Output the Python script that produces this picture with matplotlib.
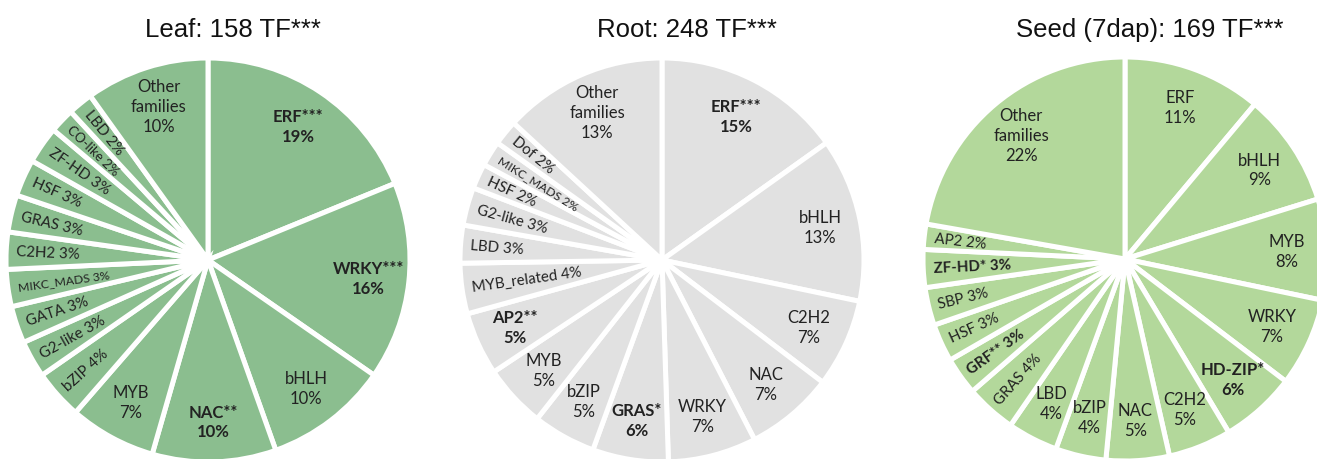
import numpy as np
import matplotlib
matplotlib.use('Agg')
import matplotlib.pyplot as plt

# Datos (porcentajes)
leaf_title = 'Leaf: 158 TF***'
leaf_names = ['ERF***', 'WRKY***', 'bHLH', 'NAC**', 'MYB', 'bZIP', 'G2-like', 'GATA',
              'MIKC_MADS', 'C2H2', 'GRAS', 'HSF', 'ZF-HD', 'CO-like', 'LBD', 'Other\nfamilies']
leaf_pct = [19, 16, 10, 10, 7, 4, 3, 3, 3, 3, 3, 3, 3, 2, 2, 10]

root_title = 'Root: 248 TF***'
root_names = ['ERF***', 'bHLH', 'C2H2', 'NAC', 'WRKY', 'GRAS*', 'bZIP', 'MYB', 'AP2**',
              'MYB_related', 'LBD', 'G2-like', 'HSF', 'MIKC_MADS', 'Dof', 'Other\nfamilies']
root_pct = [15, 13, 7, 7, 7, 6, 5, 5, 5, 4, 3, 3, 2, 2, 2, 13]

seed_title = 'Seed (7dap): 169 TF***'
seed_names = ['ERF', 'bHLH', 'MYB', 'WRKY', 'HD-ZIP*', 'C2H2', 'NAC', 'bZIP', 'LBD',
              'GRAS', 'GRF**', 'HSF', 'SBP', 'ZF-HD*', 'AP2', 'Other\nfamilies']
seed_pct = [11, 9, 8, 7, 6, 5, 5, 4, 4, 4, 3, 3, 3, 3, 2, 22]

# Estilo: etiquetas radiales (una linea) o centradas (dos lineas)
leaf_radial = [False] * 5 + [True] * 10 + [False]
root_radial = [False] * 9 + [True] * 6 + [False]
seed_radial = [False] * 9 + [True] * 6 + [False]

small_font = {'MIKC_MADS': 8.8, 'CO-like': 9.5}

W, H = 1317, 460
R = 202

fig = plt.figure(figsize=(W / 100, H / 100), dpi=100)


def dibujar_torta(cx, cy, titulo, nombres, valores, radial, color):
    ax = fig.add_axes([(cx - R) / W, (H - cy - R) / H, 2 * R / W, 2 * R / H])
    wedges, _ = ax.pie(valores, startangle=90, counterclock=False, colors=[color],
                       wedgeprops=dict(edgecolor='white', linewidth=3.6))
    ax.set_xlim(-1, 1)
    ax.set_ylim(-1, 1)
    ax.axis('off')

    for w, nombre, v, rad in zip(wedges, nombres, valores, radial):
        ang = np.deg2rad((w.theta1 + w.theta2) / 2)
        peso = 'bold' if '*' in nombre else 'normal'
        if rad:
            x, y = 0.95 * np.cos(ang), 0.95 * np.sin(ang)
            grados = np.rad2deg(ang)
            if np.cos(ang) < 0:
                rot, ha = grados - 180, 'left'
            else:
                rot, ha = grados, 'right'
            ax.text(x, y, '%s %d%%' % (nombre, v), rotation=rot, rotation_mode='anchor',
                    ha=ha, va='center', fontsize=small_font.get(nombre, 10.8),
                    fontweight=peso, color='#222222')
        else:
            x, y = 0.8 * np.cos(ang), 0.8 * np.sin(ang)
            ax.text(x, y, '%s\n%d%%' % (nombre, v), ha='center', va='center',
                    fontsize=12, fontweight=peso, linespacing=1.3, color='#222222')

    fig.text((cx + 25) / W, 1 - 37 / H, titulo, ha='center', va='baseline',
             fontsize=18.5, family='Liberation Sans', color='#111111')


plt.rcParams['font.family'] = ['Lato', 'DejaVu Sans']

dibujar_torta(208, 261, leaf_title, leaf_names, leaf_pct, leaf_radial, '#8BBE8F')
dibujar_torta(662, 261, root_title, root_names, root_pct, root_radial, '#E1E1E1')
dibujar_torta(1125, 260, seed_title, seed_names, seed_pct, seed_radial, '#B3D89B')

fig.savefig('out.png', dpi=100)
